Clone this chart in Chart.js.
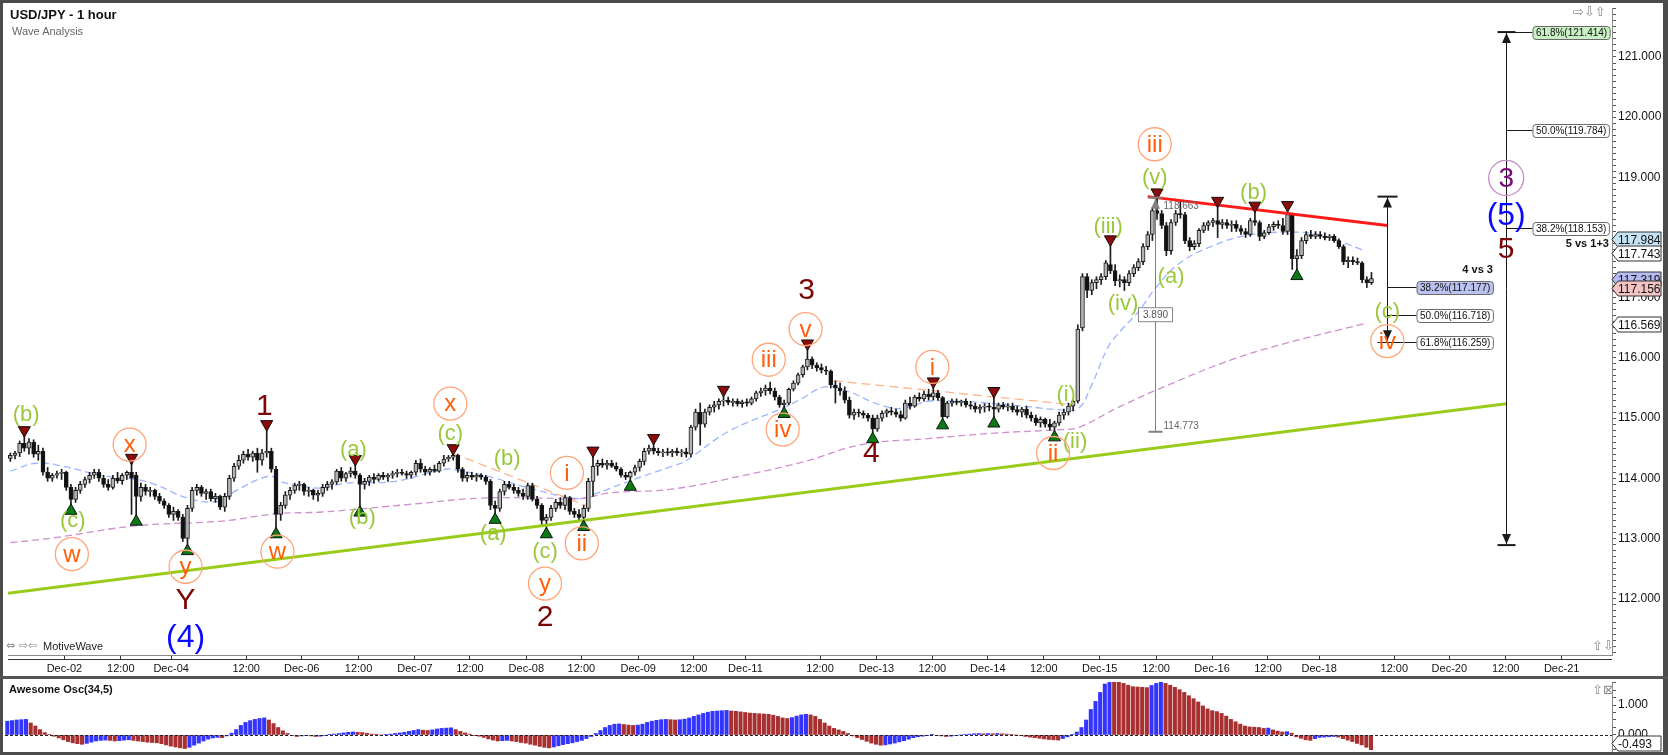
<!DOCTYPE html>
<html>
<head>
<meta charset="utf-8">
<title>USD/JPY - 1 hour</title>
<script src="https://cdn.jsdelivr.net/npm/chart.js@4.4.1/dist/chart.umd.min.js"></script>
<style>
  html, body { margin: 0; padding: 0; background: #fff; }
  #wrap { position: relative; width: 1668px; height: 755px; overflow: hidden; background: #fff;
          font-family: "Liberation Sans", Arial, sans-serif; }
  #main { position: absolute; left: 0; top: 0; }
  #osc { position: absolute; left: 0; top: 679px; }
  .edge { position: absolute; background: #4b4b4b; }
  .txt { position: absolute; white-space: nowrap; line-height: 1; }
  .ico { position: absolute; white-space: nowrap; line-height: 1; color: #8a8a8a;
         font-family: "DejaVu Sans", sans-serif; font-size: 13px; }
</style>
</head>
<body>
<div id="wrap">
  <canvas id="main" width="1668" height="676"></canvas>
  <canvas id="osc" width="1668" height="73"></canvas>

  <div class="edge" style="left:0;top:0;width:1668px;height:3px"></div>
  <div class="edge" style="left:0;top:0;width:3px;height:755px"></div>
  <div class="edge" style="left:1663px;top:0;width:5px;height:755px"></div>
  <div class="edge" style="left:0;top:752px;width:1668px;height:3px"></div>
  <div class="edge" style="left:0;top:676px;width:1668px;height:3px;background:#555"></div>

  <div class="txt" style="left:10px;top:8px;font-size:13px;font-weight:bold;color:#111">USD/JPY - 1 hour</div>
  <div class="txt" style="left:12px;top:26px;font-size:11px;color:#666">Wave Analysis</div>
  <div class="ico" style="left:1573px;top:5px">&#8680;&#8681;&#8679;</div>
  <div class="ico" style="left:6px;top:640px;font-size:11px">&#8660; &#8680;&#8678;</div>
  <div class="txt" style="left:43px;top:641px;font-size:11px;color:#222">MotiveWave</div>
  <div class="ico" style="left:1592px;top:639px">&#8679;&#8681;</div>
  <div class="txt" style="left:9px;top:684px;font-size:11px;font-weight:bold;color:#111">Awesome Osc(34,5)</div>
  <div class="ico" style="left:1592px;top:683px">&#8679;&#8864;</div>
</div>

<script>
// ---- candles, one per hour (index 0 = first bar on the left) ----
const opens = [
  114.33,114.38,114.42,114.58,114.50,114.60,114.40,114.45,114.10,114.00,
  114.05,114.08,114.10,113.85,113.65,113.80,113.90,113.98,114.05,114.10,
  114.00,113.90,113.85,114.00,113.96,114.05,114.10,114.05,113.70,113.85,
  113.78,113.80,113.70,113.62,113.55,113.40,113.45,113.35,113.00,113.50,
  113.80,113.85,113.75,113.78,113.66,113.70,113.52,113.70,114.00,114.20,
  114.30,114.40,114.35,114.42,114.30,114.42,114.45,114.15,113.40,113.55,
  113.72,113.80,113.88,113.90,113.78,113.80,113.72,113.75,113.85,113.90,
  113.94,114.12,114.00,114.08,114.12,114.05,113.90,113.95,114.02,113.98,
  114.05,114.02,114.05,114.08,114.10,114.08,114.05,114.10,114.25,114.15,
  114.10,114.15,114.12,114.25,114.32,114.35,114.38,114.15,114.00,114.05,
  114.02,114.05,114.02,113.95,113.55,113.50,113.78,113.90,113.85,113.80,
  113.75,113.70,113.88,113.65,113.55,113.30,113.35,113.50,113.60,113.55,
  113.68,113.45,113.40,113.35,113.50,113.95,114.20,114.25,114.22,114.25,
  114.20,114.15,114.05,114.02,114.10,114.18,114.28,114.45,114.50,114.45,
  114.42,114.44,114.42,114.45,114.42,114.44,114.40,114.85,115.10,114.90,
  115.10,115.18,115.22,115.28,115.30,115.26,115.28,115.24,115.27,115.25,
  115.32,115.42,115.45,115.50,115.45,115.35,115.22,115.25,115.48,115.58,
  115.72,115.85,115.98,115.88,115.84,115.80,115.78,115.55,115.50,115.45,
  115.30,115.05,115.10,115.08,115.05,115.00,114.82,115.00,115.08,115.12,
  115.10,115.06,115.00,115.25,115.20,115.35,115.32,115.40,115.35,115.42,
  115.34,115.02,115.25,115.28,115.26,115.28,115.22,115.20,115.15,115.18,
  115.20,115.18,115.15,115.22,115.18,115.20,115.14,115.10,115.15,115.05,
  115.00,114.92,114.98,114.90,114.85,114.92,115.05,115.10,115.20,115.28,
  116.50,117.35,117.12,117.25,117.30,117.35,117.55,117.45,117.28,117.30,
  117.25,117.40,117.50,117.60,117.85,118.05,118.45,118.40,118.20,117.78,
  118.25,118.40,118.38,117.95,117.85,117.90,118.12,118.20,118.25,118.28,
  118.22,118.25,118.20,118.22,118.15,118.10,118.05,118.28,118.25,118.02,
  118.08,118.18,118.22,118.20,118.10,118.38,117.65,117.70,117.95,118.05,
  118.02,118.05,118.02,118.00,118.02,117.95,117.85,117.60,117.62,117.60,
  117.58,117.30,117.25
];
const highs = [
  114.42,114.45,114.62,114.72,114.66,114.64,114.55,114.50,114.18,114.08,
  114.12,114.15,114.12,113.90,113.85,113.95,114.02,114.10,114.15,114.15,
  114.05,113.98,114.05,114.10,114.08,114.12,114.25,114.10,113.92,113.90,
  113.85,113.82,113.75,113.66,113.58,113.52,113.48,113.40,113.55,113.85,
  113.90,113.88,113.82,113.82,113.75,113.72,113.75,114.05,114.25,114.38,
  114.45,114.48,114.45,114.50,114.48,114.81,114.50,114.20,113.60,113.78,
  113.85,113.92,113.95,113.92,113.85,113.82,113.80,113.90,113.95,113.98,
  114.15,114.18,114.10,114.18,114.23,114.08,114.00,114.05,114.08,114.08,
  114.10,114.08,114.12,114.15,114.15,114.12,114.12,114.30,114.32,114.20,
  114.18,114.22,114.28,114.38,114.38,114.41,114.40,114.18,114.10,114.10,
  114.08,114.08,114.05,113.98,113.62,113.82,113.95,113.95,113.90,113.85,
  113.82,113.92,113.92,113.70,113.58,113.40,113.55,113.65,113.68,113.72,
  113.70,113.50,113.48,113.55,114.00,114.37,114.30,114.32,114.30,114.30,
  114.26,114.18,114.10,114.12,114.22,114.32,114.50,114.55,114.58,114.50,
  114.48,114.50,114.48,114.50,114.48,114.50,114.88,115.15,115.25,115.15,
  115.22,115.28,115.32,115.38,115.35,115.32,115.32,115.30,115.32,115.35,
  115.45,115.50,115.55,115.60,115.50,115.38,115.30,115.50,115.62,115.75,
  115.88,116.15,116.02,115.92,115.90,115.86,115.80,115.62,115.58,115.52,
  115.35,115.15,115.15,115.12,115.08,115.05,115.05,115.12,115.15,115.18,
  115.15,115.12,115.30,115.35,115.38,115.42,115.45,115.48,115.52,115.46,
  115.36,115.28,115.32,115.32,115.30,115.32,115.28,115.25,115.22,115.24,
  115.25,115.36,115.25,115.26,115.24,115.25,115.20,115.18,115.20,115.10,
  115.05,115.02,115.00,114.98,114.95,115.10,115.15,115.25,115.30,116.55,
  117.40,117.40,117.30,117.35,117.40,117.62,117.88,117.55,117.38,117.35,
  117.45,117.55,117.65,117.90,118.10,118.50,118.66,118.45,118.25,118.30,
  118.45,118.60,118.42,118.00,117.95,118.15,118.25,118.28,118.32,118.52,
  118.30,118.30,118.28,118.28,118.20,118.15,118.32,118.44,118.28,118.12,
  118.22,118.26,118.28,118.32,118.45,118.40,117.80,118.00,118.10,118.12,
  118.10,118.10,118.08,118.05,118.05,117.98,117.88,117.68,117.68,117.66,
  117.60,117.35,117.42
];
const lows = [
  114.28,114.32,114.36,114.45,114.40,114.35,114.30,114.05,113.95,113.95,
  114.00,113.98,113.80,113.55,113.60,113.75,113.85,113.92,114.00,113.95,
  113.85,113.80,113.82,113.92,113.90,113.98,113.40,113.37,113.62,113.72,
  113.70,113.65,113.58,113.50,113.35,113.30,113.30,112.95,112.88,113.45,
  113.72,113.70,113.65,113.62,113.60,113.48,113.45,113.65,113.95,114.15,
  114.25,114.30,114.28,114.10,114.22,114.35,114.10,113.16,113.30,113.50,
  113.65,113.75,113.80,113.72,113.70,113.65,113.62,113.70,113.80,113.82,
  113.90,113.95,113.95,114.02,114.00,113.52,113.82,113.88,113.92,113.95,
  113.98,113.95,114.00,114.02,114.05,114.00,114.00,114.05,114.10,114.05,
  114.05,114.10,114.10,114.20,114.28,114.30,114.10,113.95,113.95,113.98,
  113.95,113.98,113.90,113.48,113.40,113.45,113.72,113.82,113.75,113.70,
  113.65,113.65,113.62,113.50,113.22,113.16,113.30,113.45,113.50,113.48,
  113.40,113.35,113.30,113.28,113.45,113.70,114.05,114.18,114.15,114.18,
  114.12,114.02,113.98,113.95,114.05,114.12,114.22,114.40,114.40,114.38,
  114.36,114.38,114.36,114.38,114.36,114.35,114.36,114.80,114.55,114.85,
  115.05,115.10,115.15,115.20,115.22,115.20,115.20,115.18,115.20,115.22,
  115.28,115.36,115.38,115.40,115.30,115.18,115.16,115.22,115.45,115.55,
  115.68,115.80,115.82,115.78,115.75,115.72,115.50,115.25,115.38,115.25,
  115.00,114.98,115.02,115.00,114.95,114.74,114.78,114.95,115.02,115.05,
  115.02,114.95,114.98,115.15,115.18,115.28,115.28,115.30,115.30,115.30,
  114.97,115.00,115.20,115.22,115.20,115.18,115.15,115.10,115.08,115.10,
  115.12,115.00,115.10,115.15,115.12,115.10,115.05,115.02,115.00,114.95,
  114.88,114.85,114.85,114.80,114.77,114.88,114.98,115.05,115.12,115.25,
  116.45,117.00,117.05,117.15,117.22,117.30,117.40,117.20,117.18,117.12,
  117.20,117.35,117.45,117.55,117.80,117.95,118.30,118.15,117.70,117.72,
  118.20,118.32,117.90,117.78,117.80,117.85,118.08,118.12,118.18,118.00,
  118.15,118.15,118.10,118.10,118.05,118.00,118.02,118.20,117.95,117.98,
  118.05,118.12,118.15,118.05,118.05,117.47,117.45,117.65,117.90,117.98,
  117.98,117.98,117.96,117.95,117.92,117.82,117.55,117.50,117.55,117.55,
  117.25,117.17,117.22
];
const closes = [
  114.38,114.42,114.58,114.50,114.60,114.40,114.45,114.10,114.00,114.05,
  114.08,114.10,113.85,113.65,113.80,113.90,113.98,114.05,114.10,114.00,
  113.90,113.85,114.00,113.96,114.05,114.10,114.00,113.70,113.85,113.78,
  113.80,113.70,113.62,113.55,113.40,113.45,113.35,113.00,113.50,113.80,
  113.85,113.75,113.78,113.66,113.70,113.52,113.70,114.00,114.20,114.30,
  114.40,114.35,114.42,114.30,114.42,114.45,114.15,113.40,113.55,113.72,
  113.80,113.88,113.90,113.78,113.80,113.72,113.75,113.85,113.90,113.94,
  114.12,114.00,114.08,114.12,114.05,113.90,113.95,114.02,113.98,114.05,
  114.02,114.05,114.08,114.10,114.08,114.05,114.10,114.25,114.15,114.10,
  114.15,114.12,114.25,114.32,114.35,114.38,114.15,114.00,114.05,114.02,
  114.05,114.02,113.95,113.55,113.50,113.78,113.90,113.85,113.80,113.75,
  113.70,113.88,113.65,113.55,113.30,113.35,113.50,113.60,113.55,113.68,
  113.45,113.40,113.35,113.50,113.95,114.20,114.25,114.22,114.25,114.20,
  114.15,114.05,114.02,114.10,114.18,114.28,114.45,114.50,114.45,114.42,
  114.44,114.42,114.45,114.42,114.44,114.40,114.85,115.10,114.90,115.10,
  115.18,115.22,115.28,115.30,115.26,115.28,115.24,115.27,115.25,115.32,
  115.42,115.45,115.50,115.45,115.35,115.22,115.25,115.48,115.58,115.72,
  115.85,115.98,115.88,115.84,115.80,115.78,115.55,115.50,115.45,115.30,
  115.05,115.10,115.08,115.05,115.00,114.82,115.00,115.08,115.12,115.10,
  115.06,115.00,115.25,115.20,115.35,115.32,115.40,115.35,115.42,115.34,
  115.02,115.25,115.28,115.26,115.28,115.22,115.20,115.15,115.18,115.20,
  115.18,115.15,115.22,115.18,115.20,115.14,115.10,115.15,115.05,115.00,
  114.92,114.98,114.90,114.85,114.92,115.05,115.10,115.20,115.28,116.48,
  117.35,117.12,117.25,117.30,117.35,117.58,117.45,117.28,117.30,117.25,
  117.40,117.50,117.60,117.85,118.05,118.45,118.40,118.20,117.78,118.25,
  118.40,118.38,117.95,117.85,117.90,118.12,118.20,118.25,118.28,118.22,
  118.25,118.20,118.22,118.15,118.10,118.05,118.28,118.25,118.02,118.08,
  118.18,118.22,118.20,118.10,118.38,117.65,117.70,117.95,118.05,118.02,
  118.05,118.02,118.00,118.02,117.95,117.85,117.60,117.62,117.60,117.58,
  117.30,117.25,117.32
];

// ---- Awesome Oscillator (34,5), one value per bar ----
const aoValues = [
  0.46,0.48,0.50,0.51,0.52,0.40,0.30,0.18,0.08,0.02,
  -0.04,-0.10,-0.16,-0.22,-0.26,-0.29,-0.31,-0.28,-0.24,-0.20,
  -0.18,-0.17,-0.18,-0.20,-0.19,-0.17,-0.16,-0.18,-0.20,-0.22,
  -0.24,-0.25,-0.26,-0.29,-0.33,-0.37,-0.40,-0.43,-0.45,-0.41,
  -0.34,-0.27,-0.20,-0.14,-0.10,-0.08,-0.09,-0.03,0.06,0.18,
  0.32,0.42,0.48,0.52,0.55,0.57,0.50,0.38,0.25,0.14,
  0.05,-0.02,-0.05,-0.03,-0.01,-0.03,-0.05,-0.04,-0.02,0.01,
  0.03,0.05,0.07,0.09,0.10,0.09,0.08,0.06,0.03,0.01,
  0.00,0.01,0.03,0.05,0.07,0.09,0.12,0.15,0.18,0.16,
  0.15,0.17,0.20,0.22,0.23,0.24,0.18,0.12,0.07,0.03,
  -0.01,-0.04,-0.08,-0.13,-0.17,-0.20,-0.19,-0.18,-0.20,-0.22,
  -0.25,-0.27,-0.31,-0.34,-0.38,-0.41,-0.43,-0.40,-0.36,-0.32,
  -0.29,-0.26,-0.22,-0.18,-0.12,-0.05,0.05,0.15,0.25,0.32,
  0.36,0.37,0.35,0.33,0.32,0.33,0.36,0.42,0.46,0.49,
  0.51,0.52,0.51,0.50,0.51,0.53,0.57,0.62,0.67,0.72,
  0.76,0.79,0.80,0.81,0.82,0.80,0.79,0.77,0.75,0.73,
  0.72,0.71,0.70,0.69,0.66,0.62,0.57,0.55,0.58,0.63,
  0.67,0.69,0.67,0.62,0.52,0.40,0.30,0.22,0.17,0.12,
  0.05,-0.03,-0.09,-0.15,-0.21,-0.27,-0.31,-0.34,-0.33,-0.30,
  -0.27,-0.23,-0.19,-0.14,-0.09,-0.06,-0.04,-0.02,0.01,-0.01,
  -0.03,-0.05,-0.04,-0.02,0.00,0.02,0.03,0.04,0.05,0.04,
  0.05,0.04,0.05,0.04,0.03,0.02,0.00,-0.02,-0.05,-0.07,
  -0.09,-0.11,-0.13,-0.15,-0.16,-0.17,-0.12,-0.06,0.02,0.10,
  0.25,0.50,0.85,1.12,1.42,1.70,1.82,1.80,1.78,1.72,
  1.66,1.61,1.60,1.59,1.58,1.65,1.72,1.76,1.72,1.66,
  1.59,1.51,1.42,1.31,1.21,1.10,0.97,0.87,0.81,0.78,
  0.72,0.63,0.52,0.44,0.36,0.30,0.27,0.26,0.25,0.22,
  0.23,0.17,0.13,0.10,0.11,0.06,-0.06,-0.11,-0.16,-0.18,
  -0.12,-0.08,-0.07,-0.06,-0.05,-0.07,-0.12,-0.17,-0.22,-0.28,
  -0.33,-0.41,-0.49
];

// ---- time axis ticks (bar index) ----
const tickBars = [11.6,23.7,34.5,50.6,62.5,74.7,86.8,98.6,110.7,122.5,134.7,146.6,157.7,173.7,
  185.8,197.8,209.7,221.7,233.7,245.8,257.8,269.8,280.8,296.9,308.7,320.8,332.8];
const tickLabels = ["Dec-02","12:00","Dec-04","12:00","Dec-06","12:00","Dec-07","12:00","Dec-08","12:00",
  "Dec-09","12:00","Dec-11","12:00","Dec-13","12:00","Dec-14","12:00","Dec-15","12:00",
  "Dec-16","12:00","Dec-18","12:00","Dec-20","12:00","Dec-21"];

// ---- moving averages [bar, price] ----
const fastMA = [[0,114.12],[5.5,114.25],[11.3,114.20],[19.9,114.04],[25.6,114.00],[30.6,113.91],[38.5,113.66],
  [44.9,113.62],[48.3,113.79],[55.6,114.04],[57.8,113.95],[62.7,113.87],[67,113.84],[71.9,113.92],[82.6,113.95],
  [93.3,114.15],[96.9,114.12],[104,114.00],[111.3,113.84],[121.9,113.66],[125.4,113.74],[132.7,113.95],[141.9,114.20],
  [144.7,114.28],[154.1,114.78],[165.5,115.16],[169.7,115.32],[174.7,115.52],[179.8,115.44],[186.2,115.23],
  [191.2,115.16],[196.9,115.28],[204,115.28],[211.1,115.24],[218.3,115.19],[224.8,115.14],[229.1,115.16],
  [231.8,115.52],[235.5,116.18],[238.3,116.46],[241.9,116.76],[246.2,117.21],[251.1,117.59],[258.2,117.87],
  [265.5,118.04],[274.7,118.09],[281.1,118.04],[290.3,117.79]];
const slowMA = [[0,112.93],[9.2,113.01],[26.9,113.21],[45.5,113.29],[56.9,113.41],[66.9,113.44],[86.2,113.57],
  [100.6,113.67],[114.7,113.67],[122,113.66],[129,113.76],[141.9,113.82],[156.9,114.04],[170.4,114.28],
  [182.6,114.56],[196.9,114.66],[211.1,114.75],[225.4,114.81],[229,114.84],[238,115.19],[249,115.57],
  [262,115.97],[273,116.23],[291,116.58]];

// ---- drawn lines [bar, price] ----
const trendGreen = [[-0.5,112.09],[320.9,115.24]];
const trendRed = [[244,118.68],[295.4,118.20]];
const dashOrange1 = [[94.8,114.42],[125.4,113.49]];
const dashOrange2 = [[176.6,115.62],[228.2,115.22]];

// ---- swing markers [bar, price] ----
const swingHighs = [[3,114.80],[26,114.34],[55,114.90],[74,114.32],[95,114.50],[125,114.46],[138,114.67],
  [153,115.47],[171,116.24],[198,115.61],[211,115.45],[236,117.97],[246,118.75],[259,118.61],[267,118.53],[274,118.54]];
const swingLows = [[13,113.46],[27,113.28],[38,112.79],[57,113.07],[75,113.43],[104,113.31],[115,113.07],
  [123,113.19],[133,113.86],[166,115.07],[185,114.65],[200,114.88],[211,114.91],[224,114.68],[276,117.36]];

// ---- wave labels [bar, price, text] ----
const labelsMinor = [[3.4,115.06,"(b)"],[13.4,113.29,"(c)"],[73.6,114.47,"(a)"],[75.5,113.34,"(b)"],
  [94.4,114.73,"(c)"],[106.6,114.32,"(b)"],[103.6,113.08,"(a)"],[114.7,112.78,"(c)"],[226.5,115.39,"(i)"],
  [228.4,114.60,"(ii)"],[235.5,118.17,"(iii)"],[238.7,116.89,"(iv)"],[245.5,118.99,"(v)"],[249,117.34,"(a)"],
  [266.7,118.74,"(b)"],[295.4,116.76,"(c)"]];
const labelsCircled = [[13.2,112.74,"w"],[25.6,114.56,"x"],[37.6,112.53,"y"],[57.3,112.78,"w"],[94.4,115.24,"x"],
  [114.7,112.25,"y"],[119.4,114.09,"i"],[122.6,112.92,"ii"],[162.7,115.97,"iii"],[165.7,114.81,"iv"],
  [170.6,116.48,"v"],[197.8,115.85,"i"],[223.7,114.42,"ii"],[245.5,119.55,"iii"],[295.4,116.28,"iv"]];
const labelsPrimary = [[37.6,111.96,"Y"],[54.5,115.19,"1"],[114.7,111.69,"2"],[170.8,117.11,"3"],
  [184.7,114.40,"4"],[320.9,117.80,"5"]];
const labelsIntermediate = [[37.6,111.34,"(4)"],[320.9,118.36,"(5)"]];
const labelsCycle = [[320.9,118.99,"3"]];

// ---- measurements ----
const measureWave3 = [245.5, 118.663, 114.773];       // bar, high, low
const retraceBar = 295.4, retraceTop = 118.68;
const retraceLevels = [117.177, 116.718, 116.259];
const retracePcts = ["38.2%", "50.0%", "61.8%"];
const extensionBar = 320.9, extensionBottom = 112.89;
const extensionLevels = [121.414, 119.784, 118.153];
const extensionPcts = ["61.8%", "50.0%", "38.2%"];

// ---- price tags on the axis ----
const axisTags = [117.984, 117.743, 117.319, 117.156, 116.569];
const axisTagColors = ["#c4e4f6", "#ffffff", "#b6baf2", "#f4c4c4", "#ffffff"];
const aoLast = -0.493;

const FONT = '"Liberation Sans", Arial, sans-serif';
const xMin = -0.5, xMax = 343.6;

function segment(ctx, x1, y1, x2, y2) {
  ctx.beginPath(); ctx.moveTo(x1, y1); ctx.lineTo(x2, y2); ctx.stroke();
}
function arrowHead(ctx, x, tipY, dir) { // dir -1 points up, 1 points down
  ctx.beginPath();
  ctx.moveTo(x, tipY);
  ctx.lineTo(x - 4.5, tipY - dir * 10);
  ctx.lineTo(x + 4.5, tipY - dir * 10);
  ctx.closePath(); ctx.fill();
}
function roundBox(ctx, x, y, w, h, r, fill) {
  ctx.beginPath();
  ctx.moveTo(x + r, y); ctx.lineTo(x + w - r, y); ctx.quadraticCurveTo(x + w, y, x + w, y + r);
  ctx.lineTo(x + w, y + h - r); ctx.quadraticCurveTo(x + w, y + h, x + w - r, y + h);
  ctx.lineTo(x + r, y + h); ctx.quadraticCurveTo(x, y + h, x, y + h - r);
  ctx.lineTo(x, y + r); ctx.quadraticCurveTo(x, y, x + r, y); ctx.closePath();
  ctx.fillStyle = fill; ctx.fill();
  ctx.strokeStyle = "#6a6a6a"; ctx.lineWidth = 1; ctx.stroke();
}
function levelBox(ctx, left, cy, text, fill) {
  ctx.font = "10px " + FONT;
  const w = ctx.measureText(text).width + 6;
  roundBox(ctx, left + 0.5, Math.round(cy - 6.5) + 0.5, w, 13, 3, fill);
  ctx.fillStyle = "#111"; ctx.textAlign = "left"; ctx.textBaseline = "middle";
  ctx.fillText(text, left + 3.5, cy + 0.5);
  return left + w;
}
function axisTag(ctx, left, cy, text, fill) {
  ctx.beginPath();
  ctx.moveTo(left, cy); ctx.lineTo(left + 6, cy - 7.5); ctx.lineTo(left + 49, cy - 7.5);
  ctx.lineTo(left + 49, cy + 7.5); ctx.lineTo(left + 6, cy + 7.5); ctx.closePath();
  ctx.fillStyle = fill; ctx.fill();
  ctx.strokeStyle = "#333"; ctx.lineWidth = 1; ctx.stroke();
  ctx.fillStyle = "#111"; ctx.font = "12px " + FONT; ctx.textAlign = "left"; ctx.textBaseline = "middle";
  ctx.fillText(text, left + 6, cy + 1);
}
// keep the plot area where the layout padding puts it
function noEdgePadding(s) {
  s.paddingTop = 0; s.paddingBottom = 0; s.paddingLeft = 0; s.paddingRight = 0;
}

const overlay = {
  id: "overlay",
  afterDatasetsDraw(chart) {
    const ctx = chart.ctx, xs = chart.scales.x, ys = chart.scales.y;
    const X = v => xs.getPixelForValue(v), Y = v => ys.getPixelForValue(v);
    ctx.save();

    // wave 3 measurement
    const mx = Math.round(X(measureWave3[0])) + 0.5;
    const mt = Y(measureWave3[1]), mb = Y(measureWave3[2]);
    ctx.strokeStyle = "#808080"; ctx.fillStyle = "#808080"; ctx.lineWidth = 1;
    segment(ctx, mx, mt, mx, mb);
    ctx.lineWidth = 2;
    segment(ctx, mx - 7, mt, mx + 7, mt);
    segment(ctx, mx - 7, mb, mx + 7, mb);
    arrowHead(ctx, mx, mt + 1, -1);
    ctx.font = "10px " + FONT; ctx.textAlign = "left"; ctx.textBaseline = "middle";
    ctx.fillStyle = "#666";
    ctx.fillText(measureWave3[1].toFixed(3), mx + 8, mt + 9);
    ctx.fillText(measureWave3[2].toFixed(3), mx + 8, mb - 6);
    const diff = (measureWave3[1] - measureWave3[2]).toFixed(3);
    const midY = Y((measureWave3[1] + measureWave3[2]) / 2);
    ctx.fillStyle = "#fff"; ctx.fillRect(mx - 17, midY - 7, 34, 14);
    ctx.strokeStyle = "#888"; ctx.lineWidth = 1; ctx.strokeRect(mx - 17, midY - 7, 34, 14);
    ctx.fillStyle = "#555"; ctx.textAlign = "center"; ctx.fillText(diff, mx, midY + 0.5);

    // wave 4 retracement
    const rx = Math.round(X(retraceBar)) + 0.5;
    const rt = Y(retraceTop), rb = Y(retraceLevels[retraceLevels.length - 1]);
    ctx.strokeStyle = "#1a1a1a"; ctx.fillStyle = "#1a1a1a"; ctx.lineWidth = 1;
    segment(ctx, rx, rt, rx, rb);
    ctx.lineWidth = 2;
    segment(ctx, rx - 10, rt, rx + 10, rt);
    arrowHead(ctx, rx, rt + 1, -1);
    arrowHead(ctx, rx, rb - 2, 1);
    ctx.lineWidth = 1;
    segment(ctx, rx - 10, Math.round(rb) + 0.5, rx, Math.round(rb) + 0.5);
    let boxRight = 0;
    retraceLevels.forEach((lv, k) => {
      const ly = Math.round(Y(lv)) + 0.5;
      ctx.strokeStyle = "#1a1a1a"; ctx.lineWidth = 1;
      segment(ctx, rx, ly, rx + 29, ly);
      const r = levelBox(ctx, rx + 29, ly, retracePcts[k] + "(" + lv.toFixed(3) + ")", k === 0 ? "#bcc2f0" : "#ffffff");
      if (k === 0) boxRight = r;
    });
    ctx.font = "bold 11px " + FONT; ctx.fillStyle = "#111"; ctx.textAlign = "right"; ctx.textBaseline = "middle";
    ctx.fillText("4 vs 3", boxRight, Y(retraceLevels[0]) - 17);

    // wave 5 extension
    const ex = Math.round(X(extensionBar)) + 0.5;
    const et = Y(extensionLevels[0]), eb = Y(extensionBottom);
    ctx.strokeStyle = "#1a1a1a"; ctx.fillStyle = "#1a1a1a"; ctx.lineWidth = 1;
    segment(ctx, ex, et, ex, eb);
    ctx.lineWidth = 2;
    segment(ctx, ex - 9, et, ex + 9, et);
    segment(ctx, ex - 9, eb, ex + 9, eb);
    arrowHead(ctx, ex, et + 1, -1);
    arrowHead(ctx, ex, eb - 1, 1);
    let extRight = 0;
    extensionLevels.forEach((lv, k) => {
      const ly = Math.round(Y(lv)) + 0.5;
      ctx.strokeStyle = "#1a1a1a"; ctx.lineWidth = 1;
      segment(ctx, ex, ly, ex + 26, ly);
      extRight = levelBox(ctx, ex + 26, ly, extensionPcts[k] + "(" + lv.toFixed(3) + ")", k === 0 ? "#c8f0c4" : "#ffffff");
    });
    ctx.font = "bold 11px " + FONT; ctx.fillStyle = "#111"; ctx.textAlign = "right"; ctx.textBaseline = "middle";
    ctx.fillText("5 vs 1+3", extRight, Y(extensionLevels[2]) + 16);

    // wave labels
    ctx.textAlign = "center"; ctx.textBaseline = "middle";
    ctx.font = "22px " + FONT; ctx.fillStyle = "#99c93a";
    labelsMinor.forEach(([b, p, t]) => ctx.fillText(t, X(b), Y(p)));

    labelsCircled.forEach(([b, p, t]) => {
      const cx = X(b), cy = Y(p);
      ctx.beginPath(); ctx.arc(cx, cy, 16.5, 0, Math.PI * 2);
      ctx.strokeStyle = "#ffa577"; ctx.lineWidth = 1.3; ctx.stroke();
      ctx.font = "24px " + FONT; ctx.fillStyle = "#ff5f0a";
      ctx.fillText(t, cx, cy + 1);
    });

    ctx.font = "30px " + FONT; ctx.fillStyle = "#7d0505";
    labelsPrimary.forEach(([b, p, t]) => ctx.fillText(t, X(b), Y(p)));

    ctx.font = "32px " + FONT; ctx.fillStyle = "#0a0aff";
    labelsIntermediate.forEach(([b, p, t]) => ctx.fillText(t, X(b), Y(p)));

    labelsCycle.forEach(([b, p, t]) => {
      const cx = X(b), cy = Y(p);
      ctx.beginPath(); ctx.arc(cx, cy, 17.5, 0, Math.PI * 2);
      ctx.strokeStyle = "#c48ac4"; ctx.lineWidth = 1.3; ctx.stroke();
      ctx.font = "28px " + FONT; ctx.fillStyle = "#7a087a";
      ctx.fillText(t, cx, cy + 1);
    });
    ctx.restore();
  },
  afterDraw(chart) {
    const ctx = chart.ctx, xs = chart.scales.x, ys = chart.scales.y;
    ctx.save();
    ctx.strokeStyle = "#333"; ctx.lineWidth = 1;
    segment(ctx, chart.chartArea.left, xs.top + 4.5, chart.chartArea.right, xs.top + 4.5);
    const left = chart.chartArea.right;
    axisTags.forEach((v, k) => axisTag(ctx, left, Math.round(ys.getPixelForValue(v)) + 0.5, v.toFixed(3), axisTagColors[k]));
    ctx.restore();
  }
};

const pts = arr => arr.map(([x, y]) => ({ x, y }));

new Chart(document.getElementById("main"), {
  type: "bar",
  data: {
    datasets: [
      { type: "line", data: pts(slowMA), borderColor: "#cf8fd0", borderWidth: 1.3, borderDash: [7, 4],
        pointRadius: 0, tension: 0.4, order: 6 },
      { type: "line", data: pts(fastMA), borderColor: "#9bb6ff", borderWidth: 1.3, borderDash: [7, 4],
        pointRadius: 0, tension: 0.4, order: 6 },
      { type: "line", data: pts(dashOrange1), borderColor: "#ffb48a", borderWidth: 1.3, borderDash: [9, 5],
        pointRadius: 0, order: 5 },
      { type: "line", data: pts(dashOrange2), borderColor: "#ffb48a", borderWidth: 1.3, borderDash: [9, 5],
        pointRadius: 0, order: 5 },
      { data: highs.map((h, i) => ({ x: i, y: [lows[i], h] })), backgroundColor: "#1a1a1a",
        barThickness: 1, grouped: false, order: 4 },
      { data: opens.map((o, i) => ({ x: i, y: [o, closes[i]] })),
        backgroundColor: opens.map((o, i) => closes[i] >= o ? "#b4b4b4" : "#111111"),
        borderColor: "#1a1a1a", borderWidth: 1, borderSkipped: false, minBarLength: 1,
        barThickness: 4, grouped: false, order: 3 },
      { type: "line", data: pts(trendGreen), borderColor: "#99cc1a", borderWidth: 3, pointRadius: 0, order: 2 },
      { type: "line", data: pts(trendRed), borderColor: "#ff1a1a", borderWidth: 3, pointRadius: 0, order: 2 },
      { type: "scatter", data: pts(swingHighs), pointStyle: "triangle", rotation: 180, pointRadius: 7,
        backgroundColor: "#8c0a0a", borderColor: "#111", borderWidth: 1, order: 1 },
      { type: "scatter", data: pts(swingLows), pointStyle: "triangle", pointRadius: 7,
        backgroundColor: "#0a7a14", borderColor: "#111", borderWidth: 1, order: 1 }
    ]
  },
  options: {
    responsive: false, animation: false, devicePixelRatio: 1,
    layout: { padding: { left: 5, top: 4, right: 0, bottom: 0 } },
    plugins: { legend: { display: false }, tooltip: { enabled: false } },
    scales: {
      x: {
        type: "linear", min: xMin, max: xMax, offset: false,
        afterBuildTicks: s => { s.ticks = tickBars.map(v => ({ value: v })); },
        afterFit: s => { s.height = 21; noEdgePadding(s); },
        ticks: { autoSkip: false, maxRotation: 0, padding: 3, color: "#111",
                 font: { family: FONT, size: 11 }, callback: (v, i) => tickLabels[i] },
        grid: { drawOnChartArea: false, drawTicks: true, tickLength: 4, color: "#333", offset: false },
        border: { display: true, color: "#8a8a8a" }
      },
      y: {
        position: "right", min: 111.064, max: 121.814,
        afterBuildTicks: s => {
          const t = [];
          for (let k = 1111; k <= 1218; k++) t.push({ value: k / 10 });
          s.ticks = t;
        },
        afterFit: s => { s.width = 56; noEdgePadding(s); },
        ticks: { autoSkip: false, padding: 2, color: "#111", font: { family: FONT, size: 12 },
                 callback: v => (Math.abs(v - Math.round(v)) < 1e-6 ? v.toFixed(3) : "") },
        grid: { drawOnChartArea: false, tickLength: 4, color: "#555" },
        border: { display: true, color: "#8a8a8a" }
      }
    }
  },
  plugins: [overlay]
});

const oscOverlay = {
  id: "oscOverlay",
  afterDatasetsDraw(chart) {
    const ctx = chart.ctx, ys = chart.scales.y, a = chart.chartArea;
    const zy = Math.round(ys.getPixelForValue(0)) + 0.5;
    ctx.save();
    ctx.strokeStyle = "#222"; ctx.lineWidth = 1; ctx.setLineDash([3, 2]);
    segment(ctx, a.left, zy, a.right, zy);
    ctx.restore();
  },
  afterDraw(chart) {
    const ctx = chart.ctx, ys = chart.scales.y, a = chart.chartArea;
    // the tag is kept inside the panel, as the platform does
    const cy = Math.min(Math.round(ys.getPixelForValue(aoLast)), a.bottom - 9) + 0.5;
    ctx.save();
    axisTag(ctx, a.right, cy, aoLast.toFixed(3), "#ffffff");
    ctx.restore();
  }
};

new Chart(document.getElementById("osc"), {
  type: "bar",
  data: {
    datasets: [{
      data: aoValues.map((v, i) => ({ x: i, y: v })),
      backgroundColor: aoValues.map((v, i) => (i === 0 || v >= aoValues[i - 1]) ? "#3434ff" : "#a83030"),
      barThickness: 3.4, grouped: false
    }]
  },
  options: {
    responsive: false, animation: false, devicePixelRatio: 1,
    layout: { padding: { left: 5, top: 3, right: 0, bottom: 0 } },
    plugins: { legend: { display: false }, tooltip: { enabled: false } },
    scales: {
      x: { type: "linear", display: false, min: xMin, max: xMax, offset: false },
      y: {
        position: "right", min: -0.567, max: 1.767,
        afterBuildTicks: s => { s.ticks = [-0.5, -0.25, 0, 0.25, 0.5, 0.75, 1, 1.25, 1.5, 1.75].map(v => ({ value: v })); },
        afterFit: s => { s.width = 56; noEdgePadding(s); },
        ticks: { autoSkip: false, padding: 2, color: "#111", font: { family: FONT, size: 12 },
                 callback: v => (v === 0 || v === 1 ? v.toFixed(3) : "") },
        grid: { drawOnChartArea: false, tickLength: 4, color: "#555" },
        border: { display: true, color: "#8a8a8a" }
      }
    }
  },
  plugins: [oscOverlay]
});
</script>
</body>
</html>
